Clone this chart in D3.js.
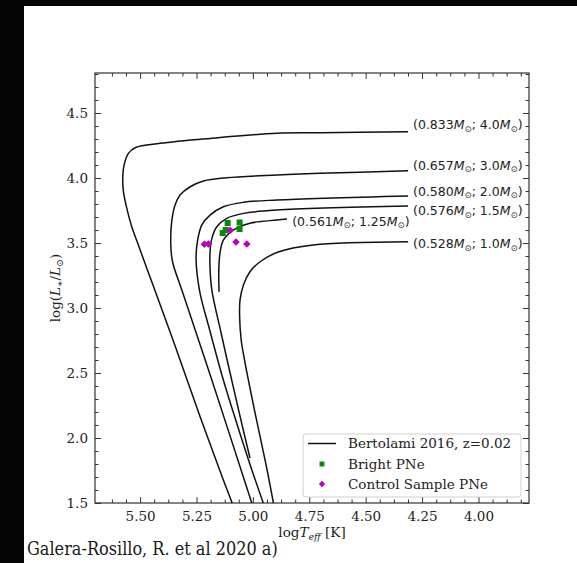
<!DOCTYPE html>
<html>
<head>
<meta charset="utf-8">
<script src="https://cdn.jsdelivr.net/npm/d3@7"></script>
<style>
  body { margin: 0; background: #000; }
  svg { display: block; }
</style>
</head>
<body>
<svg id="chart" width="577" height="563"></svg>
<script>
// Post-AGB evolutionary tracks (Miller Bertolami 2016, z = 0.02), pairs of [log Teff, log L/Lsun]
const track_0833 = [[4.312,4.356],[4.702,4.348],[4.894,4.344],[5.190,4.305],[5.411,4.267],[5.520,4.235],
  [5.552,4.190],[5.571,4.100],[5.577,3.998],[5.574,3.895],[5.559,3.767],[5.537,3.625],[5.511,3.500],
  [5.478,3.342],[5.443,3.177],[5.340,2.685],[5.234,2.164],[5.131,1.677],[5.092,1.500]];
const track_0657 = [[4.312,4.056],[4.702,4.036],[4.894,4.023],[5.116,4.002],[5.219,3.977],[5.278,3.933],
  [5.323,3.869],[5.345,3.792],[5.360,3.664],[5.364,3.485],[5.356,3.354],[5.315,3.138],[5.182,2.446],[5.005,1.500]];
const track_0580 = [[4.312,3.862],[4.894,3.831],[5.042,3.813],[5.131,3.779],[5.190,3.715],[5.227,3.638],
  [5.246,3.510],[5.252,3.382],[5.237,3.138],[5.188,2.808],[5.131,2.446],[5.072,2.115],[5.015,1.808],[4.954,1.500]];
const track_0576 = [[4.312,3.785],[4.894,3.754],[5.042,3.728],[5.116,3.690],[5.160,3.625],[5.182,3.536],
  [5.190,3.433],[5.190,3.305],[5.182,3.138],[5.141,2.808],[5.094,2.446],[5.050,2.115],[5.013,1.846]];
const track_0561 = [[4.849,3.685],[4.894,3.677],[5.013,3.652],[5.087,3.600],[5.131,3.523],[5.145,3.433],
  [5.151,3.305],[5.150,3.125]];
const track_0528 = [[4.312,3.510],[4.733,3.485],[4.888,3.431],[4.968,3.356],[5.013,3.279],[5.042,3.177],
  [5.057,3.062],[5.059,2.946],[5.052,2.754],[5.037,2.600],[5.020,2.446],[4.993,2.215],[4.965,1.985],
  [4.937,1.754],[4.909,1.500]];

const tracks = [track_0833, track_0657, track_0580, track_0576, track_0561, track_0528];

// Final / initial masses and where each label is anchored [log Teff, log L]
const finalMass   = ["0.833", "0.657", "0.580", "0.576", "0.561", "0.528"];
const initialMass = ["4.0",   "3.0",   "2.0",   "1.5",   "1.25",  "1.0"];
const labelAnchor = [[4.290,4.410],[4.290,4.100],[4.290,3.900],[4.290,3.750],[4.826,3.669],[4.290,3.495]];

// Central stars: bright PNe and control sample [log Teff, log L]
const brightPNe  = [[5.112,3.654],[5.121,3.600],[5.134,3.577],[5.059,3.658],[5.059,3.608]];
const controlPNe = [[5.215,3.490],[5.197,3.492],[5.101,3.598],[5.075,3.508],[5.027,3.492]];

// Axis ticks
const xTicks = [5.50, 5.25, 5.00, 4.75, 4.50, 4.25, 4.00];
const yTicks = [1.5, 2.0, 2.5, 3.0, 3.5, 4.0, 4.5];
const xTickLabels = ["5.50", "5.25", "5.00", "4.75", "4.50", "4.25", "4.00"];
const yTickLabels = ["1.5", "2.0", "2.5", "3.0", "3.5", "4.0", "4.5"];

const legendLabels = ["Bertolami 2016, z=0.02", "Bright PNe", "Control Sample PNe"];
const caption = "Galera-Rosillo, R. et al 2020 a)";

// ---------------------------------------------------------------------------
const W = 577, H = 563;
const plot = { left: 95, right: 529, top: 73, bottom: 503 };
const serif = "'DejaVu Serif', serif";
const sans = "'DejaVu Sans', sans-serif";
const green = "#0a8a0a", magenta = "#bb00c0";

const svg = d3.select("#chart");

// Page: dark border on the top and left edges, white sheet
svg.append("rect").attr("width", W).attr("height", H).attr("fill", "#050505");
svg.append("rect").attr("x", 24).attr("y", 6).attr("width", W - 24).attr("height", H - 6).attr("fill", "#fff");

const x = d3.scaleLinear().domain([5.70, 3.776]).range([plot.left, plot.right]);
const y = d3.scaleLinear().domain([1.5, 4.808]).range([plot.bottom, plot.top]);

// Minor tick positions
const xMinor = d3.range(Math.ceil(3.776 / 0.0625), Math.floor(5.70 / 0.0625) + 1)
  .map(k => k * 0.0625)
  .filter(v => !xTicks.some(t => Math.abs(t - v) < 1e-6) && x(v) > plot.left + 3);
const yMinor = d3.range(15, 49).map(k => k / 10)
  .filter(v => !yTicks.some(t => Math.abs(t - v) < 1e-6) && y(v) > plot.top + 1);

const g = svg.append("g");

function styleAxis(a) {
  a.select(".domain").remove();
  a.selectAll("line").attr("stroke", "#333").attr("stroke-width", 1);
  a.selectAll("text").attr("font-family", serif).attr("font-size", 13.5).attr("fill", "#222");
}

// Bottom
g.append("g").attr("transform", `translate(0,${plot.bottom})`)
  .call(d3.axisBottom(x).tickValues(xTicks).tickFormat((d, i) => xTickLabels[i]).tickSize(-6).tickSizeOuter(0).tickPadding(8))
  .call(styleAxis);
g.append("g").attr("transform", `translate(0,${plot.bottom})`)
  .call(d3.axisBottom(x).tickValues(xMinor).tickFormat("").tickSize(-3.5).tickSizeOuter(0))
  .call(styleAxis);
// Top
g.append("g").attr("transform", `translate(0,${plot.top})`)
  .call(d3.axisTop(x).tickValues(xTicks).tickFormat("").tickSize(-6).tickSizeOuter(0))
  .call(styleAxis);
g.append("g").attr("transform", `translate(0,${plot.top})`)
  .call(d3.axisTop(x).tickValues(xMinor).tickFormat("").tickSize(-3.5).tickSizeOuter(0))
  .call(styleAxis);
// Left
g.append("g").attr("transform", `translate(${plot.left},0)`)
  .call(d3.axisLeft(y).tickValues(yTicks).tickFormat((d, i) => yTickLabels[i]).tickSize(-6).tickSizeOuter(0).tickPadding(7))
  .call(styleAxis);
g.append("g").attr("transform", `translate(${plot.left},0)`)
  .call(d3.axisLeft(y).tickValues(yMinor).tickFormat("").tickSize(-3.5).tickSizeOuter(0))
  .call(styleAxis);
// Right
g.append("g").attr("transform", `translate(${plot.right},0)`)
  .call(d3.axisRight(y).tickValues(yTicks).tickFormat("").tickSize(-6).tickSizeOuter(0))
  .call(styleAxis);
g.append("g").attr("transform", `translate(${plot.right},0)`)
  .call(d3.axisRight(y).tickValues(yMinor).tickFormat("").tickSize(-3.5).tickSizeOuter(0))
  .call(styleAxis);

// Frame
g.append("rect")
  .attr("x", plot.left).attr("y", plot.top)
  .attr("width", plot.right - plot.left).attr("height", plot.bottom - plot.top)
  .attr("fill", "none").attr("stroke", "#333").attr("stroke-width", 1.2);

// Tracks
const line = d3.line().x(d => x(d[0])).y(d => y(d[1])).curve(d3.curveCatmullRom.alpha(0.5));
g.append("g").selectAll("path").data(tracks).join("path")
  .attr("d", line)
  .attr("fill", "none").attr("stroke", "#111").attr("stroke-width", 1.5)
  .attr("stroke-linejoin", "round");

// Track labels "(Mfinal; Minitial)"
function massLabel(text, fin, ini) {
  text.append("tspan").text("(" + fin);
  text.append("tspan").attr("font-style", "italic").text("M");
  text.append("tspan").attr("font-size", "68%").attr("dy", 2.5).text("\u2299");
  text.append("tspan").attr("dy", -2.5).text("; " + ini);
  text.append("tspan").attr("font-style", "italic").text("M");
  text.append("tspan").attr("font-size", "68%").attr("dy", 2.5).text("\u2299");
  text.append("tspan").attr("dy", -2.5).text(")");
}
labelAnchor.forEach((p, i) => {
  const t = g.append("text")
    .attr("x", x(p[0])).attr("y", y(p[1]))
    .attr("dy", "0.36em")
    .attr("font-family", sans).attr("font-size", 12.5).attr("fill", "#222");
  massLabel(t, finalMass[i], initialMass[i]);
});

// Central stars
const sq = 6;
g.append("g").selectAll("rect").data(brightPNe).join("rect")
  .attr("x", d => x(d[0]) - sq / 2).attr("y", d => y(d[1]) - sq / 2)
  .attr("width", sq).attr("height", sq).attr("fill", green);
const diamond = d3.symbol().type(d3.symbolDiamond2).size(36);
g.append("g").selectAll("path").data(controlPNe).join("path")
  .attr("transform", d => `translate(${x(d[0])},${y(d[1])})`)
  .attr("d", diamond).attr("fill", magenta);

// Axis titles
const xt = svg.append("text")
  .attr("x", (plot.left + plot.right) / 2).attr("y", 537)
  .attr("text-anchor", "middle").attr("font-family", serif).attr("font-size", 13.5).attr("fill", "#222");
xt.append("tspan").text("log");
xt.append("tspan").attr("font-style", "italic").text("T");
xt.append("tspan").attr("font-style", "italic").attr("font-size", "70%").attr("dy", 3).text("eff");
xt.append("tspan").attr("dy", -3).text(" [K]");

const yt = svg.append("text")
  .attr("transform", `translate(60,${(plot.top + plot.bottom) / 2}) rotate(-90)`)
  .attr("text-anchor", "middle").attr("font-family", serif).attr("font-size", 13.5).attr("fill", "#222");
yt.append("tspan").text("log(");
yt.append("tspan").attr("font-style", "italic").text("L");
yt.append("tspan").attr("font-size", "70%").attr("dy", 3).text("\u2217");
yt.append("tspan").attr("dy", -3).text("/");
yt.append("tspan").attr("font-style", "italic").text("L");
yt.append("tspan").attr("font-size", "70%").attr("dy", 3).text("\u2299");
yt.append("tspan").attr("dy", -3).text(")");

// Legend
const lg = svg.append("g").attr("transform", "translate(303,434)");
lg.append("rect").attr("width", 218).attr("height", 63).attr("rx", 3)
  .attr("fill", "#fff").attr("stroke", "#d0d0d0").attr("stroke-width", 1);
const rowY = [9.5, 30, 50];
lg.append("line").attr("x1", 5).attr("x2", 33).attr("y1", rowY[0]).attr("y2", rowY[0])
  .attr("stroke", "#111").attr("stroke-width", 1.5);
lg.append("rect").attr("x", 19 - 2.5).attr("y", rowY[1] - 2.5).attr("width", 5).attr("height", 5).attr("fill", green);
lg.append("path").attr("transform", `translate(19,${rowY[2]})`)
  .attr("d", d3.symbol().type(d3.symbolDiamond2).size(26)).attr("fill", magenta);
lg.selectAll("text.lab").data(legendLabels).join("text").attr("class", "lab")
  .attr("x", 45).attr("y", (d, i) => rowY[i]).attr("dy", "0.36em")
  .attr("font-family", serif).attr("font-size", 13.5).attr("fill", "#222")
  .text(d => d);

// Caption under the figure
const cap = svg.append("text")
  .attr("x", 27).attr("y", 555)
  .attr("font-family", "'DejaVu Serif Condensed', 'DejaVu Serif', serif")
  .style("font-stretch", "condensed")
  .attr("font-size", 17).attr("fill", "#1a1a1a")
  .text(caption);
const capW = cap.node().getComputedTextLength();
cap.attr("font-size", 17 * 251 / capW);
</script>
</body>
</html>
